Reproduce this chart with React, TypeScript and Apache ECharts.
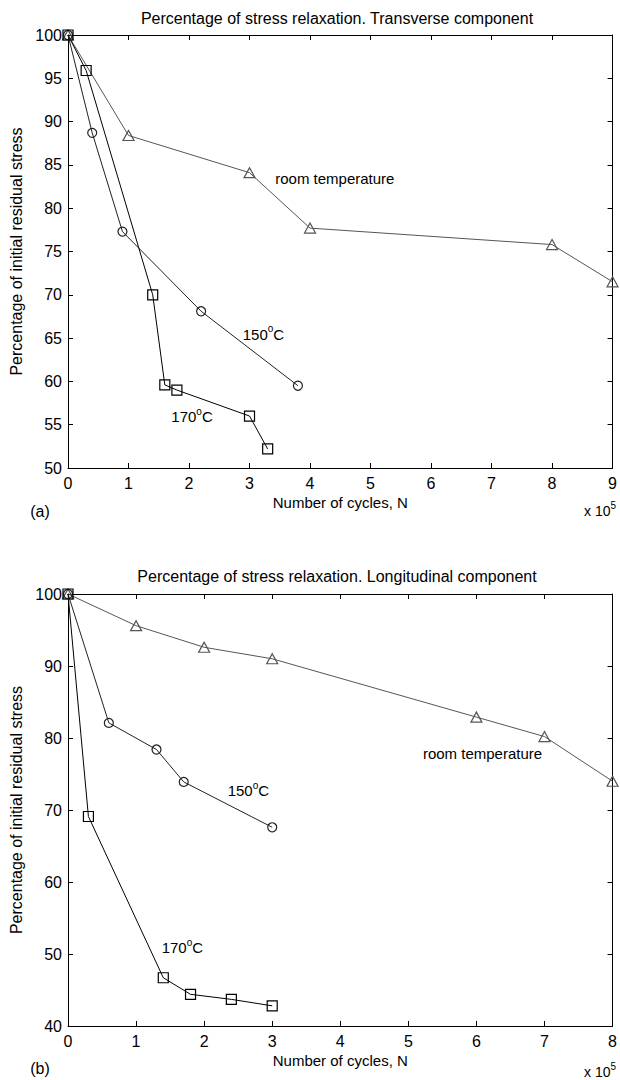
import React, { useEffect, useRef } from "react";
import * as echarts from "echarts";

const FONT = "'Liberation Sans', Arial, sans-serif";

const titleA = "Percentage of stress relaxation. Transverse component";
const titleB = "Percentage of stress relaxation. Longitudinal component";
const yName = "Percentage of initial residual stress";
const xName = "Number of cycles, N";

// Panel (a): transverse component, x in units of 1e5 cycles
const aRoomX = [0, 1, 3, 4, 8, 9];
const aRoomY = [100, 88.4, 84.1, 77.7, 75.8, 71.5];
const a150X = [0, 0.4, 0.9, 2.2, 3.8];
const a150Y = [100, 88.7, 77.3, 68.1, 59.5];
const a170X = [0, 0.3, 1.4, 1.6, 1.8, 3.0, 3.3];
const a170Y = [100, 95.9, 70, 59.6, 59, 56, 52.2];

// Panel (b): longitudinal component
const bRoomX = [0, 1, 2, 3, 6, 7, 8];
const bRoomY = [100, 95.6, 92.6, 91.0, 82.9, 80.2, 74.0];
const b150X = [0, 0.6, 1.3, 1.7, 3.0];
const b150Y = [100, 82.1, 78.4, 73.9, 67.6];
const b170X = [0, 0.3, 1.4, 1.8, 2.4, 3.0];
const b170Y = [100, 69.1, 46.7, 44.4, 43.7, 42.8];

// Axis ranges [min, max, interval]
const aXAxis = [0, 9, 1];
const aYAxis = [50, 100, 5];
const bXAxis = [0, 8, 1];
const bYAxis = [40, 100, 10];

// Curve labels: [text, x, y]
const aRoomLabel: [string, number, number] = ["room temperature", 4.41, 83.6];
const a150Label: [string, number, number] = ["150°C", 3.23, 65.6];
const a170Label: [string, number, number] = ["170°C", 2.05, 56.1];
const bRoomLabel: [string, number, number] = ["room temperature", 6.09, 78.0];
const b150Label: [string, number, number] = ["150°C", 2.65, 72.9];
const b170Label: [string, number, number] = ["170°C", 1.68, 51.1];

const zip = (xs: number[], ys: number[]) => xs.map((x, i) => [x, ys[i]]);

function labelFormatter(text: string) {
  if (text.endsWith("°C")) {
    return "{n|" + text.slice(0, -2) + "}{s|o}{n|C}";
  }
  return "{n|" + text + "}";
}

function makeSeries(
  name: string,
  xs: number[],
  ys: number[],
  symbol: string,
  size: number | number[],
  color: string,
  axisIdx: number,
  label: [string, number, number]
) {
  return {
    name,
    type: "line",
    xAxisIndex: axisIdx,
    yAxisIndex: axisIdx,
    data: zip(xs, ys),
    symbol,
    symbolSize: size,
    showAllSymbol: true,
    lineStyle: { color, width: 1 },
    itemStyle: { color: "rgba(255,255,255,0)", borderColor: color, borderWidth: 1.2 },
    emphasis: { disabled: true },
    z: 3,
    markPoint: {
      symbol: "rect",
      symbolSize: 1,
      itemStyle: { color: "rgba(0,0,0,0)" },
      silent: true,
      label: {
        show: true,
        position: "inside",
        formatter: labelFormatter(label[0]),
        rich: {
          n: { fontSize: 15, fontFamily: FONT, color: "#000", lineHeight: 18, verticalAlign: "bottom" },
          s: { fontSize: 10, fontFamily: FONT, color: "#000", lineHeight: 18, verticalAlign: "top" },
        },
      },
      data: [{ coord: [label[1], label[2]] }],
    },
  };
}

function xAxes(range: number[], gridIndex: number) {
  const common = {
    type: "value",
    gridIndex,
    min: range[0],
    max: range[1],
    interval: range[2],
    splitLine: { show: false },
    axisLine: { show: true, onZero: false, lineStyle: { color: "#000", width: 1 } },
    axisTick: { show: true, inside: true, length: 5, lineStyle: { color: "#000" } },
  };
  return [
    {
      ...common,
      position: "bottom",
      name: xName,
      nameLocation: "middle",
      nameGap: 27,
      nameTextStyle: { color: "#000", fontSize: 15, fontFamily: FONT },
      axisLabel: { color: "#000", fontSize: 16, fontFamily: FONT, margin: 7 },
    },
    { ...common, position: "top", axisLabel: { show: false } },
  ];
}

function yAxes(range: number[], gridIndex: number) {
  const common = {
    type: "value",
    gridIndex,
    min: range[0],
    max: range[1],
    interval: range[2],
    splitLine: { show: false },
    axisLine: { show: true, onZero: false, lineStyle: { color: "#000", width: 1 } },
    axisTick: { show: true, inside: true, length: 5, lineStyle: { color: "#000" } },
  };
  return [
    {
      ...common,
      position: "left",
      name: yName,
      nameLocation: "middle",
      nameRotate: 90,
      nameGap: 42,
      nameTextStyle: { color: "#000", fontSize: 16, fontFamily: FONT },
      axisLabel: { color: "#000", fontSize: 16, fontFamily: FONT, margin: 6 },
    },
    { ...common, position: "right", axisLabel: { show: false } },
  ];
}

function sciText(x: number, y: number) {
  return {
    type: "text",
    x,
    y,
    style: {
      text: "{n|x 10}{s|5}",
      align: "center",
      verticalAlign: "middle",
      rich: {
        n: { fontSize: 14, fontFamily: FONT, fill: "#000", color: "#000", lineHeight: 18, verticalAlign: "bottom" },
        s: { fontSize: 10, fontFamily: FONT, fill: "#000", color: "#000", lineHeight: 18, verticalAlign: "top" },
      },
    },
  };
}

export default function App() {
  const ref = useRef<HTMLDivElement>(null);
  useEffect(() => {
    if (!ref.current) return;
    const chart = echarts.init(ref.current, undefined, { renderer: "svg" });
    const option = {
      animation: false,
      backgroundColor: "#fff",
      grid: [
        { left: 68, top: 35, width: 549, height: 433 },
        { left: 68, top: 594, width: 549, height: 432 },
      ],
      xAxis: [...xAxes(aXAxis, 0), ...xAxes(bXAxis, 1)],
      yAxis: [...yAxes(aYAxis, 0), ...yAxes(bYAxis, 1)],
      series: [
        makeSeries("room temperature (a)", aRoomX, aRoomY, "triangle", [11, 10], "#555", 0, aRoomLabel),
        makeSeries("150°C (a)", a150X, a150Y, "circle", 9, "#222", 0, a150Label),
        makeSeries("170°C (a)", a170X, a170Y, "rect", 10, "#000", 0, a170Label),
        makeSeries("room temperature (b)", bRoomX, bRoomY, "triangle", [11, 10], "#555", 2, bRoomLabel),
        makeSeries("150°C (b)", b150X, b150Y, "circle", 9, "#222", 2, b150Label),
        makeSeries("170°C (b)", b170X, b170Y, "rect", 10, "#000", 2, b170Label),
      ],
      graphic: [
        {
          type: "text",
          x: 337,
          y: 18,
          style: { text: titleA, font: "16px " + FONT, fill: "#000", align: "center", verticalAlign: "middle" },
        },
        {
          type: "text",
          x: 337,
          y: 576,
          style: { text: titleB, font: "16px " + FONT, fill: "#000", align: "center", verticalAlign: "middle" },
        },
        {
          type: "text",
          x: 40,
          y: 511,
          style: { text: "(a)", font: "16px " + FONT, fill: "#000", align: "center", verticalAlign: "middle" },
        },
        {
          type: "text",
          x: 40,
          y: 1068,
          style: { text: "(b)", font: "16px " + FONT, fill: "#000", align: "center", verticalAlign: "middle" },
        },
        sciText(600, 509),
        sciText(600, 1070),
      ],
    };
    chart.setOption(option as any);
    return () => chart.dispose();
  }, []);
  return (
    <div
      ref={ref}
      style={{ position: "absolute", left: 0, top: 0, width: 620, height: 1080, background: "#fff" }}
    />
  );
}
